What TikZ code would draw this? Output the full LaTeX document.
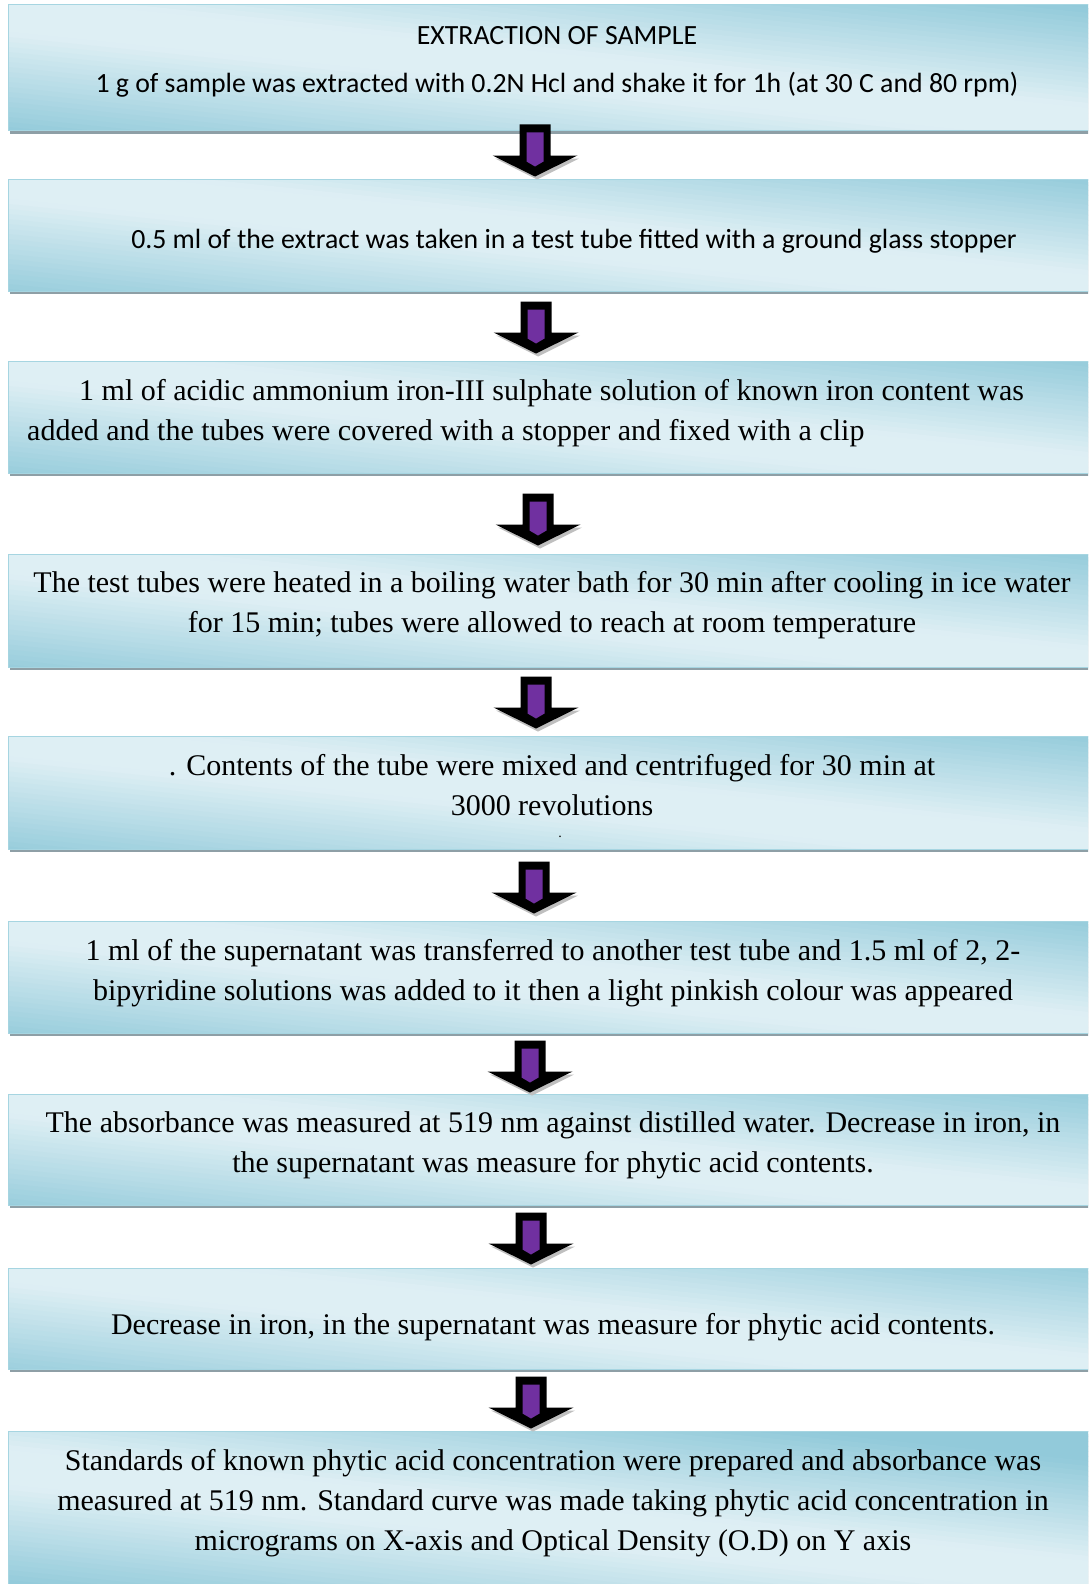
\documentclass[tikz,border=0pt]{standalone}
\usepackage{fontspec}
\setmainfont{Liberation Serif}
\newfontfamily\calibri{Carlito}
\usetikzlibrary{shadows}

\definecolor{boxlight}{HTML}{DEEFF4}
\definecolor{boxdark}{HTML}{92CADA}
\definecolor{boxedge}{HTML}{A6D5E1}
\definecolor{boxshade}{HTML}{8E9FA6}
\definecolor{arrowpurple}{HTML}{7030A0}

\tikzset{
  stepbox/.style={rectangle, draw=boxedge, line width=1pt, minimum width=1092pt, fill=boxlight,
    drop shadow={shadow xshift=2pt, shadow yshift=-3pt, fill=boxshade, opacity=1},
    path picture={
      \begin{scope}[shift={(path picture bounding box.center)}]
      % light band along the diagonal, darker towards two corners
      \foreach \t in {-160,-155,...,160} {
        \pgfmathsetmacro\mix{max(0,min(100,100*(118-abs(\t))/100))}
        \pgfmathsetmacro\ya{\t-61.6}
        \pgfmathsetmacro\yb{\t+61.6}
        \fill[boxlight!\mix!boxdark] (-600,\ya) -- (600,\yb) -- (600,\yb+6) -- (-600,\ya+6) -- cycle;
      }
      \end{scope}
    }},
  steptext/.style={align=center, inner sep=0pt, font=\fontsize{30}{40}\selectfont},
  calitext/.style={align=center, inner sep=0pt, font=\calibri\fontsize{27.8}{33}\selectfont},
  flowarrow/.pic={
    \fill[gray!50] (-40,-18) -- (2,3) -- (44,-18) -- cycle;
    \fill[black] (-15.5,-52) -- (15.5,-52) -- (15.5,-21) -- (42.5,-21) -- (0,0)
      -- (-42.5,-21) -- (-15.5,-21) -- cycle;
    \fill[arrowpurple] (-8.5,-44) -- (8.5,-44) -- (8.5,-15) -- (0,-10) -- (-8.5,-15) -- cycle;
  }
}

\begin{document}
\begin{tikzpicture}[x=1pt, y=-1pt]
\useasboundingbox (0,0) rectangle (1088,1584);
\clip (0,0) rectangle (1088,1584);

% boxes
\node[stepbox, minimum height=126pt] (b1) at (554,68) {};
\node[stepbox, minimum height=112pt] (b2) at (554,235) {};
\node[stepbox, minimum height=112pt] (b3) at (554,417) {};
\node[stepbox, minimum height=113pt] (b4) at (554,610.5) {};
\node[stepbox, minimum height=113pt] (b5) at (554,792.5) {};
\node[stepbox, minimum height=112pt] (b6) at (554,977) {};
\node[stepbox, minimum height=111pt] (b7) at (554,1149.5) {};
\node[stepbox, minimum height=101pt] (b8) at (554,1318.5) {};
\node[stepbox, minimum height=180pt] (b9) at (554,1521) {};

% arrows between the boxes
\pic at ([xshift=-19pt, yshift=2pt]b2.north) {flowarrow};
\pic at ([xshift=-18pt, yshift=7pt]b3.north) {flowarrow};
\pic at ([xshift=-16pt, yshift=8pt]b4.north) {flowarrow};
\pic at ([xshift=-18pt, yshift=7pt]b5.north) {flowarrow};
\pic at ([xshift=-20pt, yshift=7pt]b6.north) {flowarrow};
\pic at ([xshift=-24pt, yshift=1pt]b7.north) {flowarrow};
\pic at ([xshift=-23pt, yshift=3pt]b8.north) {flowarrow};
\pic at ([xshift=-23pt, yshift=2pt]b9.north) {flowarrow};

% texts
\node[calitext] (t1) at (557,62) {EXTRACTION OF SAMPLE\\[15pt]1 g of sample was extracted with 0.2N Hcl and shake it for 1h (at 30 C and 80 rpm)};
\node[calitext] (t2) at (574,241) {0.5 ml of the extract was taken in a test tube fitted with a ground glass stopper};
\node[steptext, align=left, anchor=west] (t3) at (27,413) {\hspace*{52pt}1 ml of acidic ammonium iron-III sulphate solution of known iron content was\\added and the tubes were covered with a stopper and fixed with a clip};
\node[steptext] (t4) at (552,605) {The test tubes were heated in a boiling water bath for 30 min after cooling in ice water\\for 15 min; tubes were allowed to reach at room temperature};
\node[steptext] (t5) at (552,796) {. Contents of the tube were mixed and centrifuged for 30 min at\\3000 revolutions\\[-18pt]\hspace*{16pt}{\fontsize{14}{14}\selectfont .}};
\node[steptext] (t6) at (553,973) {1 ml of the supernatant was transferred to another test tube and 1.5 ml of 2, 2-\\bipyridine solutions was added to it then a light pinkish colour was appeared};
\node[steptext] (t7) at (553,1145) {The absorbance was measured at 519 nm against distilled water. Decrease in iron, in\\the supernatant was measure for phytic acid contents.};
\node[steptext] (t8) at (553,1327) {Decrease in iron, in the supernatant was measure for phytic acid contents.};
\node[steptext] (t9) at (553,1503) {Standards of known phytic acid concentration were prepared and absorbance was\\measured at 519 nm. Standard curve was made taking phytic acid concentration in\\micrograms on X-axis and Optical Density (O.D) on Y axis};
\end{tikzpicture}
\end{document}
